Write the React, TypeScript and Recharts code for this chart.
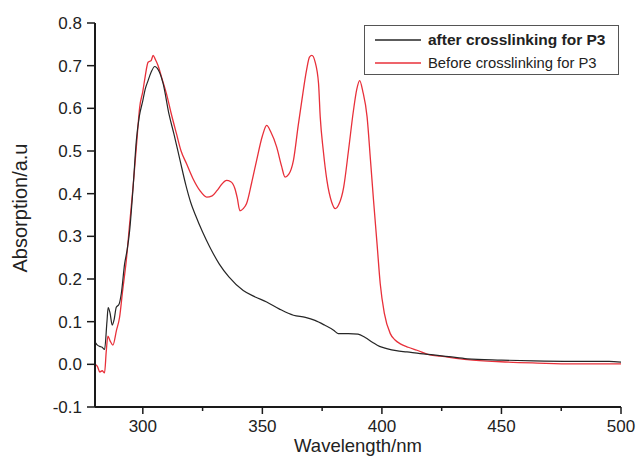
import { LineChart, Line, XAxis, YAxis, Legend } from "recharts"

// after crosslinking (black)
const afterWavelength = [
  280, 281, 282, 283, 284, 285, 285.5, 286.3, 287.2, 288, 288.9, 290, 291, 292.4, 293.5, 294.5,
  296, 297.3, 298.5, 300, 301, 302.2, 303.5, 305, 306.5, 308.5, 311, 313, 315.5, 318, 320, 322,
  325, 328, 332, 336, 342, 347, 351.8, 357, 363, 368, 372, 376, 379.8, 381.7, 386, 390, 393, 396,
  399, 402, 406, 410.5, 416, 421.6, 428, 435.7, 450, 463.5, 480, 495, 500,
]
const afterAbsorption = [
  0.052, 0.045, 0.042, 0.04, 0.035, 0.1, 0.133, 0.12, 0.092, 0.105, 0.134, 0.14, 0.166, 0.236, 0.27, 0.314,
  0.42, 0.525, 0.58, 0.618, 0.645, 0.665, 0.685, 0.698, 0.69, 0.658, 0.585, 0.54, 0.48, 0.42, 0.38, 0.35,
  0.31, 0.275, 0.235, 0.205, 0.173, 0.158, 0.146, 0.13, 0.115, 0.11, 0.103, 0.092, 0.08, 0.072, 0.072, 0.071, 0.063, 0.052,
  0.042, 0.037, 0.032, 0.029, 0.025, 0.022, 0.018, 0.013, 0.01, 0.008, 0.007, 0.007, 0.005,
]

// before crosslinking (red)
const beforeWavelength = [
  280, 281, 282, 283, 284, 284.7, 285.4, 286.3, 287.5, 289, 290.3, 291.5, 293.1, 294.5, 295.9, 297.3,
  298.7, 300, 301, 302.2, 303.5, 304.3, 305.2, 306.4, 308, 309.9, 312, 314.1, 316, 318.3, 321, 323.9,
  326.7, 329, 331, 333, 335, 336.8, 338.5, 339.5, 340.6, 342, 343.4, 345.5, 347.6, 350, 351.8, 353.5,
  356, 358, 359.5, 361, 363, 365, 366.5, 368.5, 369.7, 370.7, 372, 373.5, 374.2, 375.5, 377, 379,
  380.5, 382, 384, 386, 388.1, 389.5, 390.7, 392, 393.8, 395.2, 396.5, 398, 399.3, 401, 403.5, 405.5,
  407.7, 411, 414.7, 420, 424.5, 435.7, 449.7, 465, 480, 500,
]
const beforeAbsorption = [
  0.0, -0.005, -0.018, -0.015, -0.02, 0.03, 0.066, 0.055, 0.045, 0.08, 0.111, 0.17, 0.244, 0.33, 0.415, 0.51,
  0.603, 0.64, 0.675, 0.708, 0.712, 0.724, 0.715, 0.7, 0.67, 0.634, 0.585, 0.54, 0.5, 0.47, 0.435, 0.407,
  0.392, 0.395, 0.407, 0.422, 0.431, 0.428, 0.412, 0.39, 0.36, 0.365, 0.377, 0.425, 0.478, 0.535, 0.56, 0.545,
  0.509, 0.465, 0.439, 0.445, 0.478, 0.56, 0.618, 0.69, 0.72, 0.724, 0.71, 0.658, 0.58, 0.5, 0.431, 0.38,
  0.365, 0.375, 0.415, 0.5, 0.595, 0.645, 0.665, 0.64, 0.58, 0.48, 0.384, 0.28, 0.189, 0.12, 0.072, 0.057,
  0.048, 0.04, 0.033, 0.022, 0.019, 0.011, 0.006, 0.003, 0.001, 0.001,
]

const xTicks = [300, 325, 350, 375, 400, 425, 450, 475, 500]
const yTicks = [-0.1, -0.05, 0, 0.05, 0.1, 0.15, 0.2, 0.25, 0.3, 0.35, 0.4, 0.45, 0.5, 0.55, 0.6, 0.65, 0.7, 0.75, 0.8]

const seriesNames = ["after crosslinking for P3", "Before crosslinking for P3"]
const seriesColors = ["#262626", "#e8303a"]

const afterData = afterWavelength.map((x, i) => ({ x, y: afterAbsorption[i] }))
const beforeData = beforeWavelength.map((x, i) => ({ x, y: beforeAbsorption[i] }))

const FONT = "'Liberation Sans', Arial, sans-serif"
const AXIS = "#1a1a1a"

const isMajor = (v: number, step: number) => Math.abs(Math.round(v / step) * step - v) < 1e-6

function XTick({ x, y, payload }: any) {
  const major = isMajor(payload.value, 50)
  return (
    <g>
      <line x1={x} x2={x} y1={y} y2={y + (major ? 7 : 4)} stroke={AXIS} strokeWidth={1.5} />
      {major && (
        <text x={x} y={y + 25} textAnchor="middle" fontSize={17} fontFamily={FONT} fill="#222">
          {payload.value}
        </text>
      )}
    </g>
  )
}

function YTick({ x, y, payload }: any) {
  const major = isMajor(payload.value, 0.1)
  return (
    <g>
      <line x1={x} x2={x - (major ? 8 : 4)} y1={y} y2={y} stroke={AXIS} strokeWidth={1.5} />
      {major && (
        <text x={x - 13} y={y + 6} textAnchor="end" fontSize={17} fontFamily={FONT} fill="#222">
          {payload.value.toFixed(1)}
        </text>
      )}
    </g>
  )
}

function LegendBox() {
  return (
    <div
      style={{
        width: 255,
        height: 50,
        boxSizing: "border-box",
        border: "1.5px solid #555",
        background: "#fff",
        fontFamily: FONT,
        position: "relative",
      }}
    >
      {seriesNames.map((name, i) => (
        <div key={name} style={{ position: "absolute", left: 10, top: i === 0 ? 4 : 27, height: 20, display: "flex", alignItems: "center" }}>
          <svg width={46} height={4} style={{ marginRight: 7 }}>
            <line x1={0} x2={46} y1={2} y2={2} stroke={seriesColors[i]} strokeWidth={1.3} />
          </svg>
          <span style={{ fontSize: i === 0 ? 15.5 : 14.8, fontWeight: i === 0 ? 700 : 400, color: "#222", whiteSpace: "nowrap" }}>
            {name}
          </span>
        </div>
      ))}
    </div>
  )
}

export default function App() {
  return (
    <div style={{ position: "fixed", left: 0, top: 0, width: 638, height: 457, background: "#fff" }}>
      <LineChart width={638} height={457} margin={{ top: 23, right: 17, bottom: 0, left: 0 }}>
        <XAxis
          type="number"
          dataKey="x"
          domain={[280, 500]}
          ticks={xTicks}
          allowDataOverflow
          height={50}
          tickSize={0}
          tickMargin={0}
          tickLine={false}
          tick={<XTick />}
          axisLine={{ stroke: AXIS, strokeWidth: 2 }}
          label={{
            content: ({ viewBox }: any) => (
              <text
                x={viewBox.x + viewBox.width / 2}
                y={viewBox.y + viewBox.height - 5}
                textAnchor="middle"
                fontSize={18.5}
                fontFamily={FONT}
                fill="#222"
              >
                Wavelength/nm
              </text>
            ),
          }}
        />
        <XAxis xAxisId="top" orientation="top" type="number" domain={[280, 500]} height={0} tick={false} tickLine={false} axisLine={{ stroke: AXIS, strokeWidth: 2 }} />
        <YAxis
          type="number"
          domain={[-0.1, 0.8]}
          ticks={yTicks}
          allowDataOverflow
          width={95}
          tickSize={0}
          tickMargin={0}
          tickLine={false}
          tick={<YTick />}
          axisLine={{ stroke: AXIS, strokeWidth: 2 }}
          label={{
            content: ({ viewBox }: any) => {
              const cx = 20
              const cy = viewBox.y + viewBox.height / 2 - 7
              return (
                <text
                  x={cx}
                  y={cy}
                  transform={`rotate(-90 ${cx} ${cy})`}
                  textAnchor="middle"
                  dominantBaseline="central"
                  fontSize={20}
                  fontFamily={FONT}
                  fill="#222"
                >
                  Absorption/a.u
                </text>
              )
            },
          }}
        />
        <YAxis yAxisId="right" orientation="right" type="number" domain={[-0.1, 0.8]} width={0} tick={false} tickLine={false} axisLine={{ stroke: AXIS, strokeWidth: 2 }} />
        <Legend
          layout="horizontal"
          verticalAlign="middle"
          align="center"
          content={() => <LegendBox />}
          wrapperStyle={{ position: "absolute", left: 364, top: 25, width: 255, height: 50 }}
        />
        <Line
          data={beforeData}
          dataKey="y"
          name={seriesNames[1]}
          type="monotone"
          stroke={seriesColors[1]}
          strokeWidth={1.3}
          dot={false}
          isAnimationActive={false}
        />
        <Line
          data={afterData}
          dataKey="y"
          name={seriesNames[0]}
          type="monotone"
          stroke={seriesColors[0]}
          strokeWidth={1.2}
          dot={false}
          isAnimationActive={false}
        />
      </LineChart>
    </div>
  )
}
